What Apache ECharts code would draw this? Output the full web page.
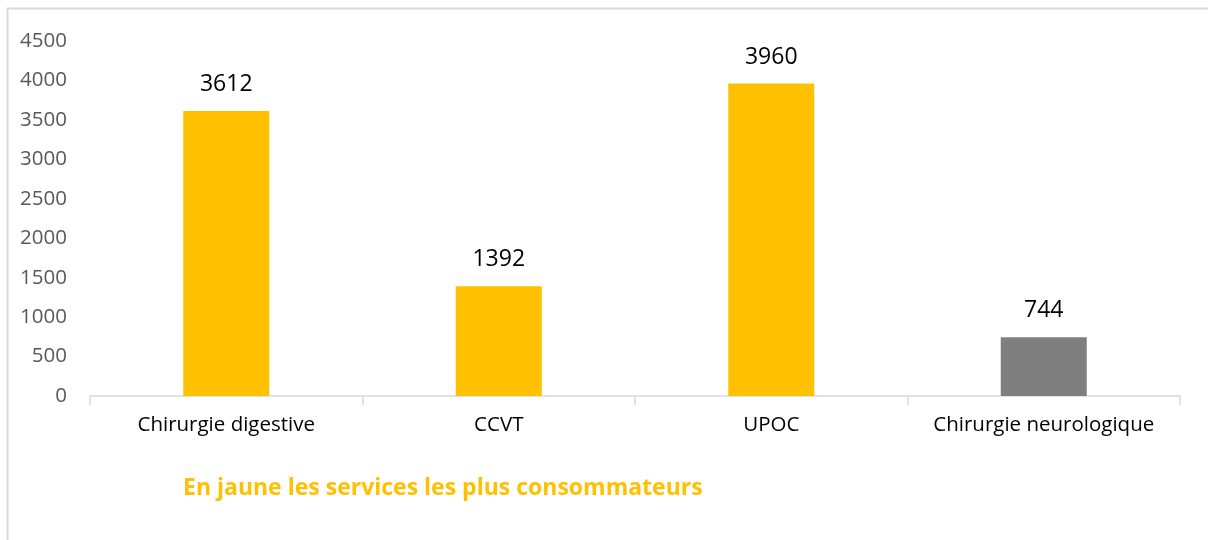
<!DOCTYPE html>
<html>
<head>
<meta charset="utf-8">
<script src="https://cdn.jsdelivr.net/npm/echarts@6/dist/echarts.min.js"></script>
<style>
    html, body { margin: 0; padding: 0; background: #fff; }
    #chart { width: 1208px; height: 540px; }
</style>
</head>
<body>
<div id="chart"></div>
<script>
    var services = ['Chirurgie digestive', 'CCVT', 'UPOC', 'Chirurgie neurologique'];
    var consumption = [3612, 1392, 3960, 744];
    var barColors = ['#FFC000', '#FFC000', '#FFC000', '#7F7F7F'];
    var yTicks = { min: 0, max: 4500, interval: 500 };
    var note = 'En jaune les services les plus consommateurs';

    var font = '"Open Sans", sans-serif';
    var chart = echarts.init(document.getElementById('chart'));
    chart.setOption({
        animation: false,
        title: {
            text: note,
            left: 178,
            top: 472,
            textStyle: { color: '#FFC000', fontWeight: 'bold', fontSize: 23, fontFamily: font }
        },
        graphic: [{
            type: 'rect',
            shape: { x: 7.5, y: 8.5, width: 1220, height: 560 },
            style: { fill: 'none', stroke: '#d9d9d9', lineWidth: 2 },
            silent: true
        }],
        grid: { left: 90, right: 28, top: 41, bottom: 144 },
        xAxis: {
            type: 'category',
            data: services,
            axisLine: { lineStyle: { color: '#d9d9d9', width: 1.5 } },
            axisTick: { show: true, alignWithLabel: false, length: 9, lineStyle: { color: '#d9d9d9', width: 1.5 } },
            axisLabel: { color: '#000', fontSize: 20.5, fontFamily: font, margin: 19, interval: 0, hideOverlap: false }
        },
        yAxis: {
            type: 'value',
            min: yTicks.min,
            max: yTicks.max,
            interval: yTicks.interval,
            axisLine: { show: false },
            axisTick: { show: false },
            splitLine: { show: false },
            axisLabel: {
                color: '#595959', fontSize: 20.5, fontFamily: font, margin: 23,
                formatter: function (v) { return String(v); }
            }
        },
        series: [{
            type: 'bar',
            barWidth: 86,
            data: consumption.map(function (v, i) {
                return { value: v, itemStyle: { color: barColors[i] } };
            }),
            label: {
                show: true,
                position: 'top',
                distance: 15,
                color: '#000',
                fontSize: 23,
                fontFamily: font
            }
        }]
    });
</script>
</body>
</html>
